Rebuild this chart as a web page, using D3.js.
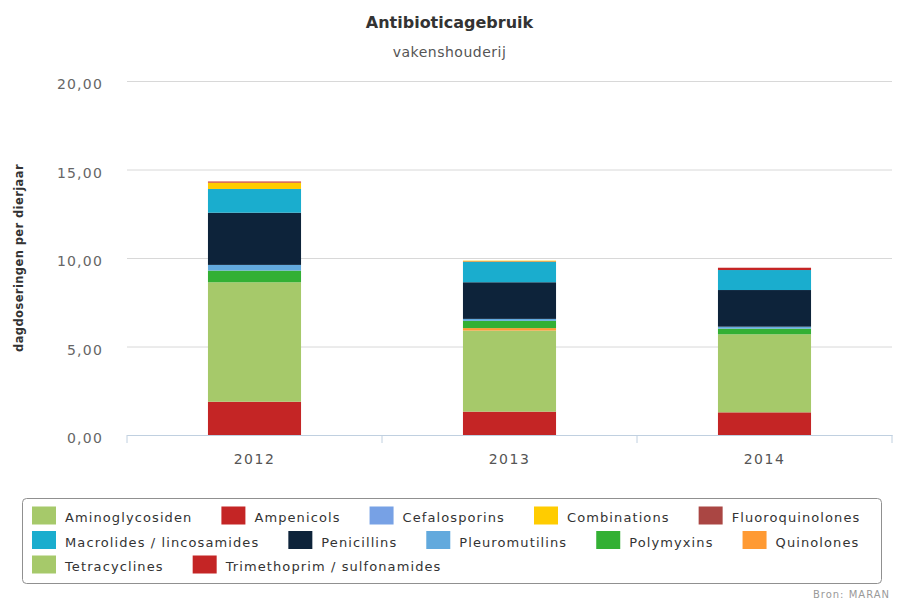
<!DOCTYPE html>
<html>
<head>
<meta charset="utf-8">
<script src="https://cdn.jsdelivr.net/npm/d3@7"></script>
<style>
	body { margin: 0; background: #fff; }
	text { font-family: "DejaVu Sans", Verdana, sans-serif; }
</style>
</head>
<body>
<div id="chart-placeholder"></div>
<script>
// data (dagdoseringen per dierjaar)
const years = ["2012", "2013", "2014"];
const classNames = ["Aminoglycosiden", "Ampenicols", "Cefalosporins", "Combinations", "Fluoroquinolones",
	"Macrolides / lincosamides", "Penicillins", "Pleuromutilins", "Polymyxins", "Quinolones",
	"Tetracyclines", "Trimethoprim / sulfonamides"];
const classColors = ["#a6c96a", "#c42525", "#77a1e5", "#ffcc00", "#aa4643",
	"#1aadce", "#0d233a", "#62a9dd", "#33b034", "#ff9a33",
	"#a6c96a", "#c42525"];

const aminoglycosiden = [0, 0, 0];
const ampenicols = [0.06, 0, 0.13];
const cefalosporins = [0, 0, 0];
const combinations = [0.36, 0.04, 0];
const fluoroquinolones = [0, 0.03, 0];
const macrolides = [1.34, 1.15, 1.13];
const penicillins = [2.95, 2.07, 2.07];
const pleuromutilins = [0.32, 0.11, 0.11];
const polymyxins = [0.66, 0.41, 0.32];
const quinolones = [0, 0.14, 0];
const tetracyclines = [6.75, 4.58, 4.41];
const trimethoprim = [1.88, 1.32, 1.28];

const yTicks = [0, 5, 10, 15, 20];

let svg, xScale, yScale;

function drawChart() {
	let width = 899, height = 601;
	let left = 127, right = 892, top = 81, bottom = 435;

	svg = d3.select("#chart-placeholder")
		.append("svg")
		.attr("width", width)
		.attr("height", height);

	let seriesValues = [aminoglycosiden, ampenicols, cefalosporins, combinations, fluoroquinolones,
		macrolides, penicillins, pleuromutilins, polymyxins, quinolones, tetracyclines, trimethoprim];

	// one row per year, one column per class
	let rows = years.map((y, i) => {
		let r = { year: y };
		classNames.forEach((c, j) => r[c] = seriesValues[j][i]);
		return r;
	});

	// first legend item ends up on top, like the original
	let stacked = d3.stack().keys(classNames.slice().reverse())(rows);

	let Color = d3.scaleOrdinal().domain(classNames).range(classColors);

	xScale = d3.scaleBand().domain(years).range([left, right])
		.paddingInner(0.635).paddingOuter(0.3175);
	yScale = d3.scaleLinear().domain([0, 20]).range([bottom, top]);

	let nl = d3.formatLocale({ decimal: ",", thousands: ".", grouping: [3], currency: ["€", ""] });
	let fmt = nl.format(".2f");

	// titles
	svg.append("text")
		.attr("x", width / 2)
		.attr("y", 28)
		.attr("text-anchor", "middle")
		.style("font-size", "16px")
		.style("font-weight", "bold")
		.style("fill", "#333")
		.text("Antibioticagebruik");

	svg.append("text")
		.attr("x", width / 2)
		.attr("y", 57)
		.attr("text-anchor", "middle")
		.style("font-size", "14px")
		.style("letter-spacing", "0.5px")
		.style("fill", "#555")
		.text("vakenshouderij");

	svg.append("text")
		.attr("transform", `translate(23, ${(top + bottom) / 2}) rotate(-90)`)
		.attr("text-anchor", "middle")
		.style("font-size", "11.5px")
		.style("font-weight", "bold")
		.style("letter-spacing", "0.4px")
		.style("fill", "#333")
		.text("dagdoseringen per dierjaar");

	// y grid + labels
	let yAxis = d3.axisLeft(yScale).tickValues(yTicks).tickFormat(fmt)
		.tickSize(-(right - left)).tickPadding(24);
	let yg = svg.append("g")
		.attr("class", "yaxis")
		.attr("transform", `translate(${left}, 0)`)
		.call(yAxis);
	yg.select(".domain").remove();
	yg.selectAll(".tick line").attr("stroke", "#d8d8d8");
	yg.selectAll(".tick text")
		.attr("dy", "0.55em")
		.style("font-size", "14px")
		.style("letter-spacing", "1.2px")
		.style("fill", "#666")
		.style("font-family", "DejaVu Sans, sans-serif");

	// bars
	svg.append("g")
		.selectAll("g")
		.data(stacked)
		.enter()
		.append("g")
		.attr("fill", d => Color(d.key))
		.selectAll("rect")
		.data(d => d)
		.enter()
		.append("rect")
		.attr("x", d => xScale(d.data.year))
		.attr("width", xScale.bandwidth())
		.attr("y", d => yScale(d[1]))
		.attr("height", d => yScale(d[0]) - yScale(d[1]));

	// x axis
	let xAxis = d3.axisBottom(xScale).tickSize(0).tickPadding(19);
	let xg = svg.append("g")
		.attr("class", "xaxis")
		.attr("transform", `translate(0, ${bottom})`)
		.call(xAxis);
	xg.select(".domain").attr("stroke", "#c0d0e0");
	xg.selectAll(".tick text")
		.style("font-size", "14px")
		.style("letter-spacing", "1.5px")
		.style("fill", "#555")
		.style("font-family", "DejaVu Sans, sans-serif");
	// tick marks between categories
	let step = xScale.step();
	xg.selectAll(".sep")
		.data(d3.range(years.length + 1))
		.enter()
		.append("line")
		.attr("x1", i => left + i * step)
		.attr("x2", i => left + i * step)
		.attr("y1", 0)
		.attr("y2", 8)
		.attr("stroke", "#c0d0e0");

	drawLegend(Color);

	svg.append("text")
		.attr("x", 890)
		.attr("y", 598)
		.attr("text-anchor", "end")
		.style("font-size", "10px")
		.style("letter-spacing", "1px")
		.style("fill", "#999")
		.text("Bron: MARAN");
}

function drawLegend(Color) {
	let boxX = 22, boxY = 498, boxW = 859, boxH = 85;
	let size = 24, symH = 18, gap = 8, itemDistance = 30, rowH = 24.5;

	svg.append("rect")
		.attr("x", boxX + 0.5)
		.attr("y", boxY + 0.5)
		.attr("width", boxW)
		.attr("height", boxH)
		.attr("rx", 4)
		.attr("fill", "none")
		.attr("stroke", "#909090");

	let lg = svg.append("g").attr("class", "legend");
	let x = 32, row = 0, maxX = boxX + boxW - 6;

	classNames.forEach(name => {
		let item = lg.append("g");
		let t = item.append("text")
			.attr("x", size + gap + 1)
			.attr("y", 0)
			.attr("dy", "0.5em")
			.style("font-size", "13px")
			.style("letter-spacing", "1.1px")
			.style("fill", "#333")
			.text(name);
		let w = size + gap + t.node().getComputedTextLength();
		if (x + w > maxX) {
			row++;
			x = 32;
		}
		item.attr("transform", `translate(${x}, ${515.5 + row * rowH})`);
		item.insert("rect", "text")
			.attr("x", 0)
			.attr("y", -symH / 2)
			.attr("width", size)
			.attr("height", symH)
			.attr("fill", Color(name));
		x += w + itemDistance;
	});
}

drawChart();
</script>
</body>
</html>
